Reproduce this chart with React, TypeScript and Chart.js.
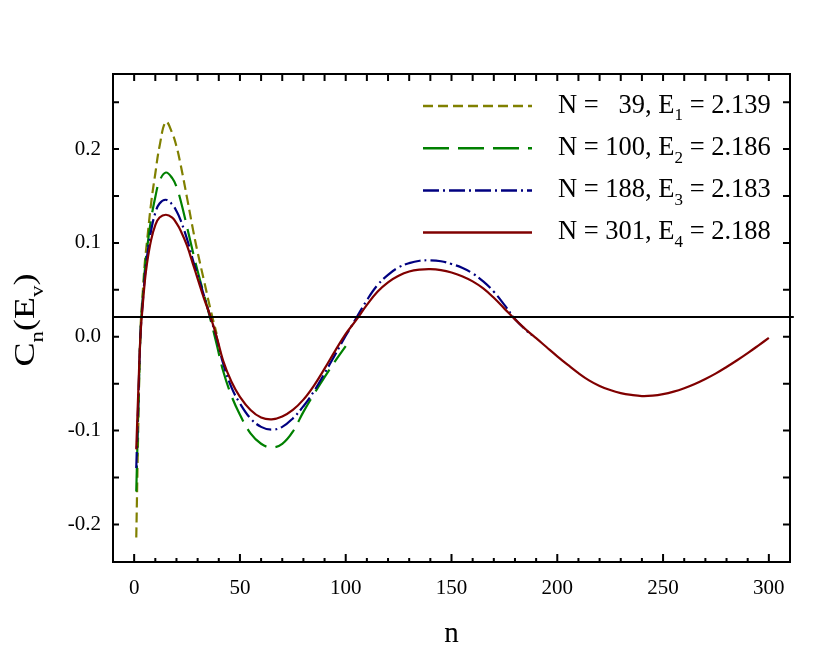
import { useEffect, useRef } from 'react'
import { Chart, registerables } from 'chart.js'

Chart.register(...registerables)

// n grid shared by all series (each series is cut at its own N)
const nValues = [1, 2, 3, 4, 5, 6, 8, 10, 12, 15, 18, 20, 22, 25, 28, 30, 33, 36, 39, 42, 46, 50, 55, 60, 65, 70, 75, 80, 85, 90, 95, 100, 105, 110, 115, 120, 125, 130, 135, 140, 145, 150, 155, 160, 165, 170, 175, 180, 185, 188, 190, 195, 200, 205, 210, 215, 220, 225, 230, 235, 240, 245, 250, 255, 260, 265, 270, 275, 280, 285, 290, 295, 300]

const cN39 = [-0.214, -0.09, 0.008, 0.045, 0.078, 0.1, 0.142, 0.174, 0.203, 0.229, 0.217, 0.203, 0.183, 0.148, 0.112, 0.09, 0.06, 0.03, 0.003]
const cN100 = [-0.165, -0.075, 0.005, 0.04, 0.07, 0.092, 0.125, 0.149, 0.166, 0.175, 0.169, 0.16, 0.145, 0.117, 0.088, 0.07, 0.045, 0.019, -0.008, -0.036, -0.063, -0.083, -0.103, -0.114, -0.118, -0.114, -0.101, -0.08, -0.061, -0.043, -0.026, -0.01]
const cN188 = [-0.14, -0.065, 0.003, 0.035, 0.063, 0.084, 0.113, 0.132, 0.142, 0.146, 0.141, 0.134, 0.124, 0.104, 0.08, 0.066, 0.044, 0.021, -0.001, -0.028, -0.054, -0.071, -0.087, -0.096, -0.099, -0.096, -0.087, -0.074, -0.058, -0.039, -0.019, 0.001, 0.02, 0.039, 0.055, 0.066, 0.074, 0.0785, 0.081, 0.0815, 0.0805, 0.0775, 0.0735, 0.0675, 0.059, 0.048, 0.034, 0.019, 0.0075, 0.0015]
const cN301 = [-0.12, -0.055, 0.002, 0.032, 0.058, 0.077, 0.103, 0.119, 0.127, 0.13, 0.127, 0.121, 0.113, 0.097, 0.076, 0.062, 0.041, 0.022, 0.0, -0.025, -0.048, -0.064, -0.078, -0.086, -0.088, -0.085, -0.078, -0.067, -0.052, -0.034, -0.015, 0.003, 0.018, 0.034, 0.048, 0.058, 0.065, 0.0695, 0.0715, 0.072, 0.071, 0.0685, 0.0645, 0.059, 0.0515, 0.0415, 0.03, 0.0185, 0.008, 0.0022, -0.0015, -0.0112, -0.0208, -0.03, -0.0388, -0.0465, -0.0525, -0.0568, -0.06, -0.062, -0.0632, -0.0628, -0.0612, -0.0585, -0.0548, -0.0503, -0.045, -0.039, -0.0322, -0.025, -0.0174, -0.0094, -0.0012]

const refLevel = 0.021

const xTickValues = [0, 50, 100, 150, 200, 250, 300]
const xMinorTicks = [0, 10, 20, 30, 40, 50, 60, 70, 80, 90, 100, 110, 120, 130, 140, 150, 160, 170, 180, 190, 200, 210, 220, 230, 240, 250, 260, 270, 280, 290, 300]
const yTickValues = [-0.2, -0.1, 0, 0.1, 0.2]
const yMinorTicks = [-0.2, -0.15, -0.1, -0.05, 0, 0.05, 0.1, 0.15, 0.2, 0.25]

type Part = { t: string; sub?: boolean }

const legendLabels: Part[][] = [
  [{ t: 'N =   39, E' }, { t: '1', sub: true }, { t: ' = 2.139' }],
  [{ t: 'N = 100, E' }, { t: '2', sub: true }, { t: ' = 2.186' }],
  [{ t: 'N = 188, E' }, { t: '3', sub: true }, { t: ' = 2.183' }],
  [{ t: 'N = 301, E' }, { t: '4', sub: true }, { t: ' = 2.188' }],
]
const seriesColors = ['#808000', '#008000', '#000080', '#800000']
const seriesDash = [[10, 5], [26, 9], [16, 4, 2, 4], []]
const seriesData = [cN39, cN100, cN188, cN301]

const yTitle: Part[] = [{ t: 'C' }, { t: 'n', sub: true }, { t: '(E' }, { t: 'v', sub: true }, { t: ')' }]
const xTitle: Part[] = [{ t: 'n' }]

const serif = '"Liberation Serif", "Times New Roman", serif'

function drawRich(ctx: CanvasRenderingContext2D, parts: Part[], x: number, y: number, size: number, align: 'left' | 'center') {
  const subSize = Math.round(size * 0.64)
  const fontOf = (p: Part) => `${p.sub ? subSize : size}px ${serif}`
  let total = 0
  parts.forEach(p => { ctx.font = fontOf(p); total += ctx.measureText(p.t).width })
  let cx = align === 'center' ? x - total / 2 : x
  ctx.textAlign = 'left'
  ctx.textBaseline = 'alphabetic'
  parts.forEach(p => {
    ctx.font = fontOf(p)
    ctx.fillText(p.t, cx, p.sub ? y + size * 0.3 : y)
    cx += ctx.measureText(p.t).width
  })
}

const framePlugin = {
  id: 'frame',
  afterDatasetsDraw(chart: any) {
    const { ctx, chartArea: a, scales } = chart
    const xs = scales.x
    const ys = scales.y
    ctx.save()
    ctx.strokeStyle = '#000'
    ctx.fillStyle = '#000'
    ctx.lineWidth = 2
    ctx.strokeRect(a.left, a.top, a.right - a.left, a.bottom - a.top)
    ctx.beginPath()
    xMinorTicks.forEach(v => {
      const px = xs.getPixelForValue(v)
      const len = xTickValues.includes(v) ? 8 : 4
      ctx.moveTo(px, a.bottom)
      ctx.lineTo(px, a.bottom - len)
      ctx.moveTo(px, a.top)
      ctx.lineTo(px, a.top + 7)
    })
    yMinorTicks.forEach(v => {
      const py = ys.getPixelForValue(v)
      ctx.moveTo(a.left, py)
      ctx.lineTo(a.left + 6, py)
      ctx.moveTo(a.right, py)
      ctx.lineTo(a.right - 7, py)
    })
    ctx.stroke()

    // legend
    legendLabels.forEach((parts, i) => {
      const ly = 106 + i * 42.2
      ctx.strokeStyle = seriesColors[i]
      ctx.lineWidth = 2.5
      ctx.setLineDash(seriesDash[i])
      ctx.beginPath()
      ctx.moveTo(423, ly)
      ctx.lineTo(532, ly)
      ctx.stroke()
      ctx.setLineDash([])
      ctx.fillStyle = '#000'
      drawRich(ctx, parts, 558, ly + 6.5, 26.5, 'left')
    })

    // axis titles
    drawRich(ctx, xTitle, (a.left + a.right) / 2, 642, 29, 'center')
    ctx.translate(33.5, 320)
    ctx.rotate(-Math.PI / 2)
    ctx.scale(1.2, 1)
    drawRich(ctx, yTitle, 0, 0, 30, 'center')
    ctx.restore()
  },
}

export default function App() {
  const ref = useRef<HTMLCanvasElement>(null)
  useEffect(() => {
    if (!ref.current) return
    const datasets: any[] = seriesData.map((vals, i) => ({
      label: legendLabels[i].map(p => p.t).join(''),
      data: vals.map((y, k) => ({ x: nValues[k], y })),
      borderColor: seriesColors[i],
      borderDash: seriesDash[i],
      borderWidth: 2.2,
      pointRadius: 0,
      fill: false,
      tension: 0.4,
      order: 4 - i,
    }))
    datasets.push({
      label: 'ref',
      data: [{ x: -10, y: refLevel }, { x: 311.8, y: refLevel }],
      borderColor: '#000',
      borderWidth: 2,
      pointRadius: 0,
      clip: { left: 0, top: 0, right: 6, bottom: 0 },
      order: 0,
    })
    const chart = new Chart(ref.current, {
      type: 'line',
      data: { datasets },
      options: {
        animation: false,
        responsive: false,
        events: [],
        layout: { padding: { top: 74, right: 40, left: 0, bottom: 0 } },
        plugins: { legend: { display: false }, tooltip: { enabled: false } },
        scales: {
          x: {
            type: 'linear',
            min: -10,
            max: 310,
            grid: { display: false, drawTicks: false },
            border: { display: false },
            afterBuildTicks: (s: any) => { s.ticks = xTickValues.map(value => ({ value })) },
            afterFit: (s: any) => { s.height = 94 },
            ticks: {
              font: { family: serif, size: 21 },
              color: '#000',
              padding: 14,
              maxRotation: 0,
              autoSkip: false,
              callback: (v: any) => String(v),
            },
          },
          y: {
            type: 'linear',
            min: -0.24,
            max: 0.28,
            grid: { display: false, drawTicks: false },
            border: { display: false },
            afterBuildTicks: (s: any) => { s.ticks = yTickValues.map(value => ({ value })) },
            afterFit: (s: any) => { s.width = 113 },
            ticks: {
              font: { family: serif, size: 21 },
              color: '#000',
              padding: 12,
              autoSkip: false,
              callback: (v: any) => Number(v).toFixed(1),
            },
          },
        },
      },
      plugins: [framePlugin],
    })
    return () => chart.destroy()
  }, [])
  return (
    <div style={{ position: 'absolute', left: 0, top: 0, width: 830, height: 656, background: '#fff' }}>
      <canvas ref={ref} width={830} height={656} style={{ display: 'block' }} />
    </div>
  )
}
